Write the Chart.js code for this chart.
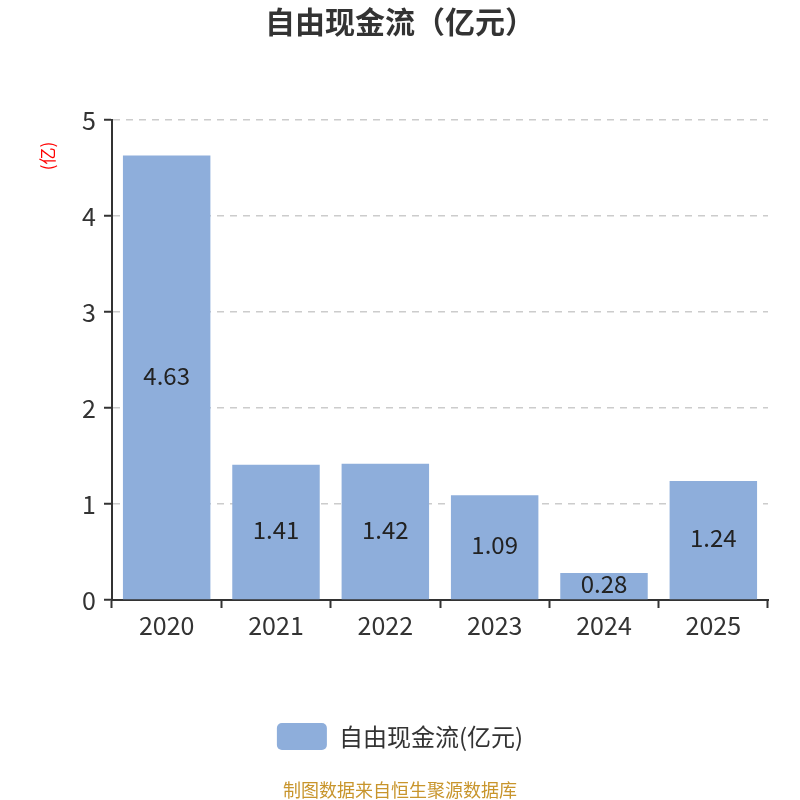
<!DOCTYPE html>
<html><head><meta charset="utf-8">
<script src="https://cdn.jsdelivr.net/npm/chart.js@4/dist/chart.umd.min.js"></script>
<style>html,body{margin:0;padding:0;background:#fff}#wrap{width:800px;height:800px}</style>
</head><body><div id="wrap"><canvas id="c" width="800" height="800"></canvas></div>
<script>
const categories = ["2020","2021","2022","2023","2024","2025"];
const values = [4.63, 1.41, 1.42, 1.09, 0.28, 1.24];
const yTicks = [0,1,2,3,4,5];
const titleText = "自由现金流（亿元）";
const seriesName = "自由现金流(亿元)";
const yUnit = "(亿)";
const footerText = "制图数据来自恒生聚源数据库";
const FONT = "'Noto Sans CJK SC','Noto Sans',sans-serif";

const labelsPlugin = {
  id: 'labels',
  afterDatasetsDraw(chart) {
    const ctx = chart.ctx;
    const meta = chart.getDatasetMeta(0);
    ctx.save();
    ctx.font = "24px " + FONT;
    ctx.fillStyle = "#222";
    ctx.textAlign = "center";
    ctx.textBaseline = "middle";
    meta.data.forEach((bar, i) => {
      const y = (bar.y + bar.base) / 2 - 2;
      ctx.fillText(values[i].toFixed(2), bar.x, y);
    });
    ctx.restore();
  },
  afterDraw(chart) {
    const ctx = chart.ctx;
    ctx.save();
    ctx.font = "18px " + FONT;
    ctx.fillStyle = "#c8952c";
    ctx.textAlign = "center";
    ctx.textBaseline = "middle";
    ctx.fillText(footerText, 400, 790);
    ctx.translate(48, 156);
    ctx.rotate(-Math.PI/2);
    ctx.font = "17px " + FONT;
    ctx.fillStyle = "#ff0000";
    ctx.fillText(yUnit, 0, 0);
    ctx.restore();
  }
};

new Chart(document.getElementById('c'), {
  type: 'bar',
  data: {
    labels: categories,
    datasets: [{
      label: seriesName,
      data: values,
      backgroundColor: '#8eaedb',
      borderWidth: 0,
      categoryPercentage: 0.8,
      barPercentage: 1.0
    }]
  },
  options: {
    responsive: false,
    animation: false,
    devicePixelRatio: 1,
    layout: { padding: { left: 0, right: 0, top: 0, bottom: 40 } },
    plugins: {
      title: { display: true, text: titleText, color: '#333', font: { size: 30, weight: 'bold', family: FONT }, padding: { top: 4, bottom: 80 } },
      legend: {
        position: 'bottom',
        labels: { color: '#333', font: { size: 24, family: FONT }, boxWidth: 50, boxHeight: 27, useBorderRadius: true, borderRadius: 5, padding: 8 }
      },
      tooltip: { enabled: false }
    },
    scales: {
      x: {
        afterFit(s) { s.height = 115; },
        grid: { display: true, drawOnChartArea: false, drawTicks: true, offset: true, tickLength: 8, tickColor: '#333', tickWidth: 2 },
        border: { display: true, color: '#333', width: 2 },
        ticks: { color: '#333', font: { size: 25, family: FONT }, padding: 2 }
      },
      y: {
        min: 0, max: 5,
        afterFit(s) { s.width = 112; },
        afterBuildTicks(s) { s.ticks = yTicks.map(v => ({ value: v })); },
        grid: {
          color: ctx => ctx.tick && ctx.tick.value === 0 ? 'rgba(0,0,0,0)' : '#cccccc',
          lineWidth: 1.5,
          tickColor: '#333', tickLength: 8, tickWidth: 2
        },
        border: { display: true, color: '#333', width: 2, dash: [7, 6] },
        ticks: { color: '#333', font: { size: 25, family: FONT }, padding: 8, stepSize: 1 }
      },
      yRight: {
        position: 'right',
        min: 0, max: 5,
        afterFit(s) { s.width = 32; },
        grid: { display: false, drawOnChartArea: false, drawTicks: false },
        border: { display: false },
        ticks: { display: false }
      }
    }
  },
  plugins: [labelsPlugin]
});
</script></body></html>
